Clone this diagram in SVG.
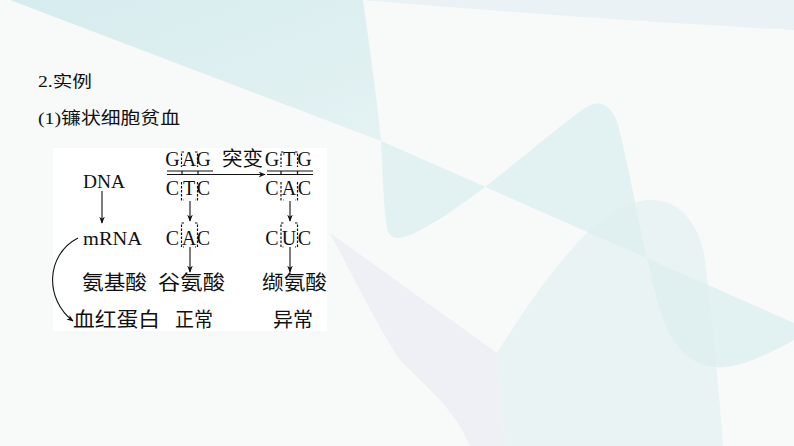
<svg xmlns="http://www.w3.org/2000/svg" width="794" height="446" viewBox="0 0 794 446">
<defs>
<marker id="ah" viewBox="0 0 10 10" refX="9" refY="5" markerWidth="7" markerHeight="7" orient="auto" markerUnits="userSpaceOnUse">
<path d="M0,1 L10,5 L0,9 L3,5 Z" fill="#111"/>
</marker>
<linearGradient id="gA" x1="0" y1="0" x2="1" y2="1">
<stop offset="0" stop-color="#d6ecee"/>
<stop offset="1" stop-color="#e4f2f3"/>
</linearGradient>
<style>
.lat{font-family:"Liberation Serif","Noto Sans CJK SC",serif;font-size:20px;fill:#111;text-anchor:middle}
.lbl{font-family:"Liberation Serif","Noto Sans CJK SC",serif;font-size:19px;fill:#111}
.cjk{font-family:"Liberation Serif","Noto Sans CJK SC",serif;font-size:20px;fill:#111}
.hd{font-family:"Liberation Serif","Noto Sans CJK SC",sans-serif;fill:#111}
.ln{stroke:#111;stroke-width:1.2;fill:none}
.br{stroke:#111;stroke-width:1.2;fill:none;stroke-dasharray:2.5 1.5}
.arr{stroke:#111;stroke-width:1.1;fill:none;marker-end:url(#ah)}
</style>
</defs>
<g id="background">
<rect x="0" y="0" width="794" height="446" fill="#f8f9f9"/>
<path d="M363 0 L794 0 L794 30 Q600 20 363 0 Z" fill="#eaf2f5"/>
<path d="M10 0 L363 0 C370 50 377 100 381 141 Z" fill="url(#gA)"/>
<path d="M330 233 L497 353 L505 446 L470 446 C455 410 430 390 400 360 C380 330 360 290 330 233 Z" fill="#eef0f5"/>
<path d="M505 446 L497 353 C530 300 560 260 585 235 C615 207 635 200 652 200 C680 200 700 225 705 260 C712 320 720 400 723 446 Z" fill="#e9f3f4"/>
<path fill-rule="evenodd" d="M381 141 C383 180 384 215 388 232 C392 240 402 240 420 230 C470 205 540 140 585 108 C600 98 612 105 618 125 C630 170 645 260 660 310 C672 350 695 370 725 367 C750 364 775 350 794 340 L794 323 Z" fill="#dff0f0" opacity="0.9"/>
</g>
<g id="headings">
<text class="hd" x="38" y="87" font-size="16" textLength="54" lengthAdjust="spacingAndGlyphs">2.实例</text>
<text class="hd" x="38" y="124" font-size="17" textLength="142" lengthAdjust="spacingAndGlyphs">(1)镰状细胞贫血</text>
</g>
<g id="panel">
<rect x="53" y="148" width="274" height="183" fill="#ffffff"/>
</g>
<g id="node-dna">
<text class="lbl" x="83" y="188" textLength="42" lengthAdjust="spacingAndGlyphs">DNA</text>
</g>
<g id="node-mrna">
<text class="lbl" x="83" y="245" textLength="59" lengthAdjust="spacingAndGlyphs">mRNA</text>
</g>
<g id="node-aa">
<text class="cjk" x="82" y="290" textLength="65" lengthAdjust="spacingAndGlyphs">氨基酸</text>
</g>
<g id="node-hb">
<text class="cjk" x="73" y="327" textLength="87" lengthAdjust="spacingAndGlyphs">血红蛋白</text>
</g>
<g id="node-normal-dna">
<text class="lat" x="172.5" y="166">G</text><text class="lat" x="189" y="166">A</text><text class="lat" x="203.5" y="166">G</text>
<line class="ln" x1="167" y1="171" x2="213" y2="171"/>
<line class="ln" x1="167" y1="174.5" x2="213" y2="174.5"/>
<line class="ln" x1="182" y1="171" x2="182" y2="174.5"/>
<line class="ln" x1="198" y1="171" x2="198" y2="174.5"/>
<text class="lat" x="172.5" y="195">C</text><text class="lat" x="189" y="195">T</text><text class="lat" x="203.5" y="195">C</text>
<path class="br" d="M184 152 H181.5 V167"/><path class="br" d="M195 152 H197.5 V167"/>
<path class="br" d="M181.5 182 V200 H184"/><path class="br" d="M197.5 182 V200 H195"/>
</g>
<g id="node-mut-dna">
<text class="lat" x="272" y="166">G</text><text class="lat" x="289" y="166">T</text><text class="lat" x="304.5" y="166">G</text>
<line class="ln" x1="267" y1="171" x2="313" y2="171"/>
<line class="ln" x1="267" y1="174.5" x2="313" y2="174.5"/>
<line class="ln" x1="281" y1="171" x2="281" y2="174.5"/>
<line class="ln" x1="297.5" y1="171" x2="297.5" y2="174.5"/>
<text class="lat" x="272" y="195">C</text><text class="lat" x="289" y="195">A</text><text class="lat" x="304.5" y="195">C</text>
<path class="br" d="M283.5 152 H281 V167"/><path class="br" d="M295 152 H297.5 V167"/>
<path class="br" d="M281 182 V200 H283.5"/><path class="br" d="M297.5 182 V200 H295"/>
</g>
<g id="node-mutation-label">
<text class="cjk" x="222" y="166" font-size="19" textLength="41" lengthAdjust="spacingAndGlyphs">突变</text>
</g>
<g id="node-normal-mrna">
<text class="lat" x="172.5" y="245">C</text><text class="lat" x="189" y="245">A</text><text class="lat" x="203.5" y="245">C</text>
<path class="br" d="M184 223 H181.5 V247 H184"/><path class="br" d="M195 223 H197.5 V247 H195"/>
</g>
<g id="node-mut-mrna">
<text class="lat" x="272" y="245">C</text><text class="lat" x="289" y="245">U</text><text class="lat" x="304.5" y="245">C</text>
<path class="br" d="M283.5 223 H281 V247 H283.5"/><path class="br" d="M295 223 H297.5 V247 H295"/>
</g>
<g id="node-glu">
<text class="cjk" x="158" y="290" textLength="67" lengthAdjust="spacingAndGlyphs">谷氨酸</text>
</g>
<g id="node-val">
<text class="cjk" x="262" y="290" textLength="65" lengthAdjust="spacingAndGlyphs">缬氨酸</text>
</g>
<g id="node-normal">
<text class="cjk" x="175" y="327" textLength="38" lengthAdjust="spacingAndGlyphs">正常</text>
</g>
<g id="node-abnormal">
<text class="cjk" x="273" y="327" textLength="40" lengthAdjust="spacingAndGlyphs">异常</text>
</g>
<g id="connectors">
<line class="arr" x1="102" y1="191" x2="102" y2="223"/>
<path class="arr" d="M78 238 C45 255 45 300 73 321"/>
<line class="arr" x1="213" y1="174.5" x2="265" y2="174.5"/>
<line class="arr" x1="190" y1="201" x2="190" y2="221"/>
<line class="arr" x1="290" y1="201" x2="290" y2="221"/>
<line class="arr" x1="190" y1="247" x2="190" y2="272"/>
<line class="arr" x1="290" y1="247" x2="290" y2="272"/>
</g>
</svg>
